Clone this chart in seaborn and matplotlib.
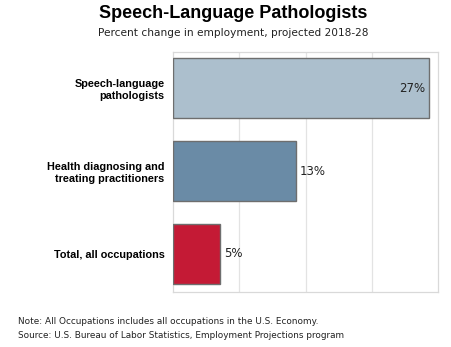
import matplotlib
matplotlib.use("Agg")
import matplotlib.pyplot as plt
import seaborn as sns
import pandas as pd

categories = ["Speech-language\npathologists",
              "Health diagnosing and\ntreating practitioners",
              "Total, all occupations"]
values = [27, 13, 5]
value_labels = ["27%", "13%", "5%"]
colors = ["#acbfcd", "#6a8ba6", "#c41a35"]

sns.set_theme(style="white")
plt.rcParams['font.family'] = ['DejaVu Sans']

df = pd.DataFrame({"cat": categories, "val": values})

fig = plt.figure(figsize=(4.51, 3.47), dpi=100)
ax = fig.add_axes([173/451, 1-292/347, (438-173)/451, (292-52)/347])

sns.barplot(data=df, y="cat", x="val", hue="cat", palette=colors, legend=False,
            orient="h", width=0.73, saturation=1, edgecolor="#6e6e6e", linewidth=1.0,
            ax=ax, zorder=3)

ax.set_xlim(0, 28)
ax.set_ylim(2.462, -0.438)
ax.set_xticks([7, 14, 21])
ax.xaxis.grid(True, color="#e3e3e3", linewidth=0.9, zorder=0)
ax.tick_params(axis="x", length=0, labelbottom=False)
ax.tick_params(axis="y", length=0, pad=6)
ax.set_xlabel("")
ax.set_ylabel("")
for lab in ax.get_yticklabels():
    lab.set_fontfamily("Liberation Sans")
    lab.set_fontweight("bold")
    lab.set_fontsize(7.8)
    lab.set_color("black")
    lab.set_horizontalalignment("right")
    lab.set_multialignment("right")
for s in ax.spines.values():
    s.set_color("#d9d9d9")
    s.set_linewidth(0.9)

for i, (v, t) in enumerate(zip(values, value_labels)):
    if i == 0:
        ax.text(v - 0.3, i, t, ha="right", va="center", fontsize=8.5, color="#222222")
    else:
        ax.text(v + 0.4, i, t, ha="left", va="center", fontsize=8.5, color="#222222")

fig.text(233/451, 1-14/347, "Speech-Language Pathologists", ha="center", va="center",
         fontsize=13, fontweight="bold", family="Liberation Sans", color="black")
fig.text(233/451, 1-33/347, "Percent change in employment, projected 2018-28", ha="center",
         va="center", fontsize=7.6, color="#222222")
fig.text(18/451, 1-321/347, "Note: All Occupations includes all occupations in the U.S. Economy.",
         ha="left", va="center", fontsize=6.4, color="#222222")
fig.text(18/451, 1-336/347, "Source: U.S. Bureau of Labor Statistics, Employment Projections program",
         ha="left", va="center", fontsize=6.4, color="#222222")

fig.savefig("out.png", dpi=100)
